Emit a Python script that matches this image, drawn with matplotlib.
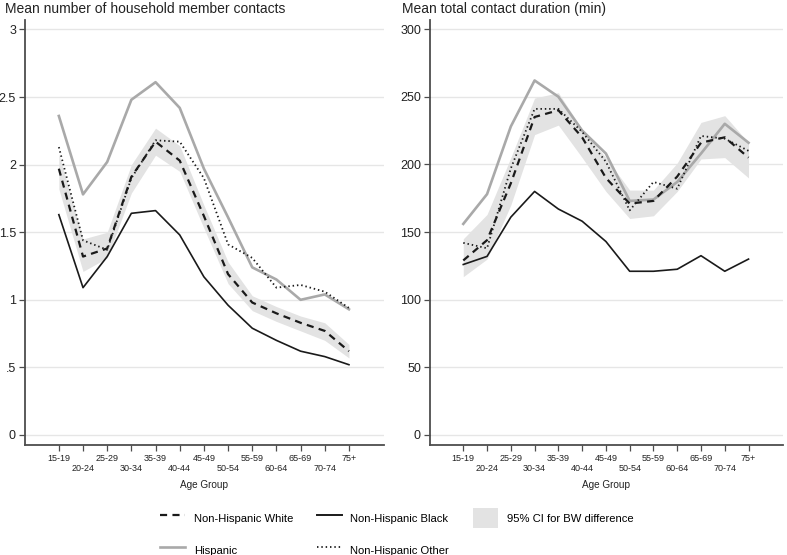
import matplotlib
matplotlib.use("Agg")
import matplotlib.pyplot as plt
from matplotlib.patches import Patch
from matplotlib.lines import Line2D

plt.rcParams['font.family'] = ['Liberation Sans', 'DejaVu Sans']

ages = ['15-19', '20-24', '25-29', '30-34', '35-39', '40-44', '45-49',
        '50-54', '55-59', '60-64', '65-69', '70-74', '75+']

# mean number of household member contacts
white_n = [1.97, 1.32, 1.38, 1.91, 2.17, 2.03, 1.62, 1.19, 0.98, 0.90, 0.83, 0.77, 0.62]
black_n = [1.63, 1.09, 1.32, 1.64, 1.66, 1.48, 1.17, 0.96, 0.79, 0.70, 0.62, 0.58, 0.52]
hisp_n = [2.36, 1.78, 2.02, 2.48, 2.61, 2.42, 1.97, 1.61, 1.24, 1.15, 1.00, 1.04, 0.93]
other_n = [2.13, 1.44, 1.37, 1.90, 2.18, 2.17, 1.90, 1.41, 1.31, 1.09, 1.11, 1.06, 0.94]
ci_lo_n = [1.82, 1.21, 1.31, 1.79, 2.07, 1.95, 1.53, 1.12, 0.92, 0.84, 0.77, 0.70, 0.57]
ci_hi_n = [2.08, 1.45, 1.50, 2.00, 2.27, 2.14, 1.70, 1.28, 1.03, 0.95, 0.88, 0.83, 0.67]

# mean total contact duration (min)
white_d = [129, 144, 186, 235, 240, 220, 190, 171, 173, 191, 216, 220, 205]
black_d = [126, 132, 161, 180, 167, 158, 143, 121, 121, 122.5, 132.5, 121, 130]
hisp_d = [156, 178, 228, 262, 250, 225, 208, 173, 174, 187, 208, 230, 216]
other_d = [142, 138, 197, 241, 241, 224, 202, 166, 187, 182, 221, 219, 210]
ci_lo_d = [117, 130, 170, 222, 229, 205, 180, 160, 162, 180, 204, 205, 190]
ci_hi_d = [145, 163, 205, 249, 253, 226, 205, 181, 181, 201, 231, 236, 216]

yticks_n = [0, 0.5, 1, 1.5, 2, 2.5, 3]
ylabels_n = ['0', '.5', '1', '1.5', '2', '2.5', '3']
yticks_d = [0, 50, 100, 150, 200, 250, 300]

band_col = '#e3e3e3'
hisp_col = '#a9a9a9'
line_col = '#1a1a1a'
spine_col = '#4d4d4d'

fig = plt.figure(figsize=(7.87, 5.55), dpi=100)
ax1 = fig.add_axes([25/787, 1-445/555, 359/787, 425/555])
ax2 = fig.add_axes([430/787, 1-445/555, 353/787, 425/555])

x = list(range(len(ages)))


def draw(ax, white, black, hisp, other, lo, hi, title, yt, yl, ylim, tx):
    ax.fill_between(x, lo, hi, color=band_col, lw=0, zorder=1)
    ax.plot(x, hisp, color=hisp_col, lw=1.9, zorder=2)
    ax.plot(x, black, color=line_col, lw=1.2, zorder=3)
    ax.plot(x, white, color=line_col, lw=1.6, dashes=(3.2, 2.4), zorder=4)
    ax.plot(x, other, color=line_col, lw=1.3, dashes=(0.8, 1.6), zorder=4)
    ax.set_xlim(-1.4, 13.45)
    ax.set_ylim(*ylim)
    ax.set_yticks(yt)
    ax.set_yticklabels(yl, fontsize=9, color='#222222')
    ax.set_xticks(x)
    ax.set_xticklabels([a if i % 2 == 0 else '\n' + a for i, a in enumerate(ages)],
                       fontsize=6.5, color='#222222', linespacing=1.15)
    ax.grid(axis='y', color='#e6e6e6', lw=1.0, zorder=0)
    ax.set_axisbelow(True)
    for s in ['top', 'right']:
        ax.spines[s].set_visible(False)
    for s in ['left', 'bottom']:
        ax.spines[s].set_color(spine_col)
        ax.spines[s].set_linewidth(1.3)
    ax.tick_params(axis='both', direction='out', length=4.5, width=0.9,
                   color=spine_col, pad=2)
    ax.set_xlabel('Age Group', fontsize=7.2, color='#222222', labelpad=5)
    ax.set_title(title, loc='left', fontsize=10, color='#222222', pad=5, x=tx)


draw(ax1, white_n, black_n, hisp_n, other_n, ci_lo_n, ci_hi_n,
     'Mean number of household member contacts', yticks_n, ylabels_n,
     (-0.074, 3.07), -0.055)
draw(ax2, white_d, black_d, hisp_d, other_d, ci_lo_d, ci_hi_d,
     'Mean total contact duration (min)', yticks_d, [str(v) for v in yticks_d],
     (-7.4, 306.7), -0.08)

handles = [
    Line2D([], [], color=line_col, lw=1.6, dashes=(3.2, 2.4)),
    Line2D([], [], color=hisp_col, lw=1.9),
    Line2D([], [], color=line_col, lw=1.4),
    Line2D([], [], color=line_col, lw=1.3, dashes=(0.8, 1.6)),
    Patch(facecolor=band_col, edgecolor='none'),
]
labels = ['Non-Hispanic White', 'Hispanic', 'Non-Hispanic Black',
          'Non-Hispanic Other', '95% CI for BW difference']
fig.legend(handles, labels, loc='upper left', bbox_to_anchor=(160/787, 1-508/555),
           ncol=3, frameon=False, fontsize=8.1, handlelength=2.2, handleheight=2.4,
           handletextpad=0.8, columnspacing=2.1, labelspacing=1.1,
           borderpad=0, borderaxespad=0)

fig.savefig('out.png', dpi=100)
